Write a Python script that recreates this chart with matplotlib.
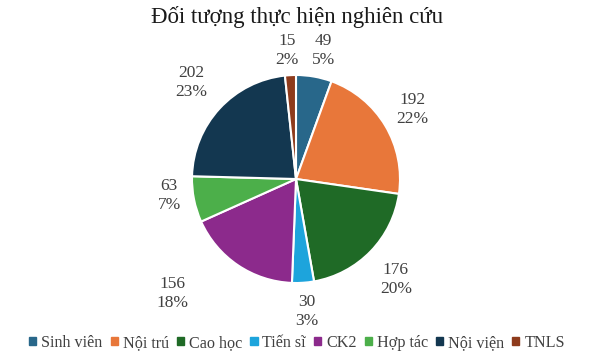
import matplotlib.pyplot as plt
import numpy as np

plt.rcParams['font.family'] = ['Liberation Serif', 'DejaVu Serif']

categories = ["Sinh viên", "Nội trú", "Cao học", "Tiến sĩ", "CK2", "Hợp tác", "Nội viện", "TNLS"]
values = [49, 192, 176, 30, 156, 63, 202, 15]
percents = ["5%", "22%", "20%", "3%", "18%", "7%", "23%", "2%"]
colors = ["#28678a", "#e8773a", "#1f6a26", "#1da4dc", "#8c2a8c", "#4caf4a", "#133750", "#8e3b1c"]

# label placement tweaks (distance in radii, angle shift in degrees)
dists = [1.26, 1.30, 1.36, 1.28, 1.62, 1.23, 1.37, 1.24]
shifts = [-2, 0, -1, 1, -13, -4, 0, 1]

fig = plt.figure(figsize=(5.94, 3.56), dpi=100)
ax = fig.add_axes([0, 0, 1, 1])

cx, cy, r = 296, 177, 104
wedges, _ = ax.pie(values, colors=colors, startangle=90, counterclock=False,
                   center=(cx, cy), radius=r, frame=True,
                   wedgeprops=dict(edgecolor='white', linewidth=1.5))
ax.set_xlim(0, 594)
ax.set_ylim(0, 356)
ax.set_aspect('equal')
ax.axis('off')

for w, v, p, d, s in zip(wedges, values, percents, dists, shifts):
    ang = np.deg2rad((w.theta1 + w.theta2) / 2 + s)
    x = cx + d * r * np.cos(ang)
    y = cy + d * r * np.sin(ang)
    ax.text(x, y, f"{v}\n{p}", ha='center', va='center', fontsize=12.5,
            color='#404040', linespacing=1.25)

ax.text(297, 339, "Đối tượng thực hiện nghiên cứu", ha='center', va='center',
        fontsize=16.5, color='#1a1a1a')

handles = [plt.Rectangle((0, 0), 1, 1, color=c) for c in colors]
fig.legend(handles, categories, loc='center', bbox_to_anchor=(0.5, 0.037),
           ncol=8, frameon=False, fontsize=11.6, handlelength=0.45,
           handleheight=0.45, handletextpad=0.3, columnspacing=0.5,
           labelcolor='#404040')

fig.savefig("out.png", dpi=100)
